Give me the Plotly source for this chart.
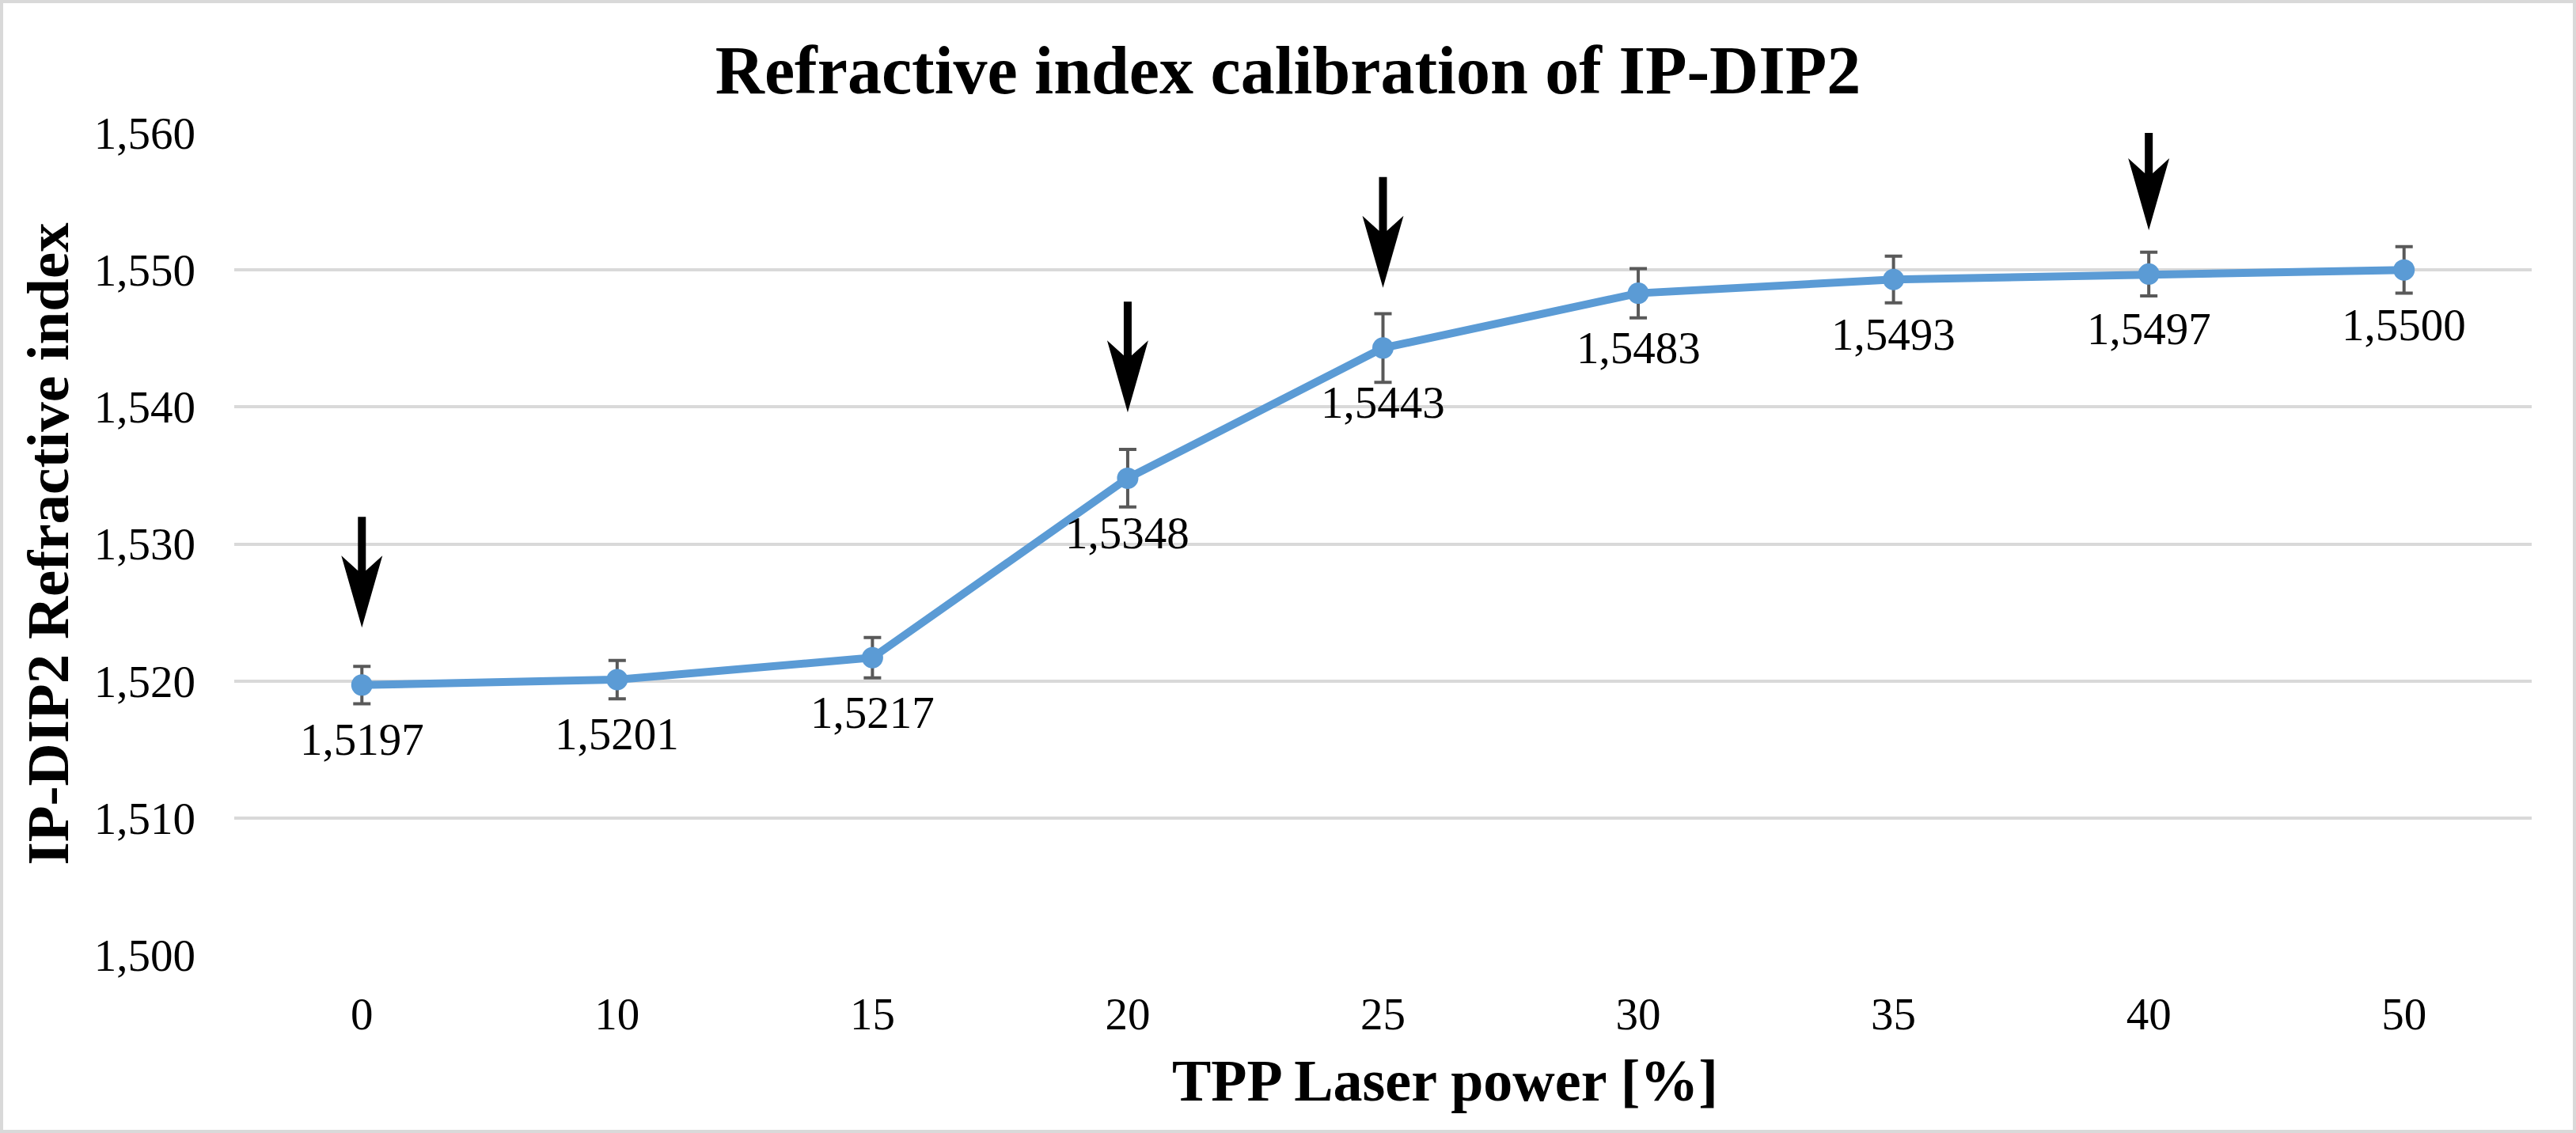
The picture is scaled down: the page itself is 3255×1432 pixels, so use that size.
import plotly.graph_objects as go

# ---- data ----
laser_power = ["0", "10", "15", "20", "25", "30", "35", "40", "50"]
refractive_index = [1.5197, 1.5201, 1.5217, 1.5348, 1.5443, 1.5483, 1.5493, 1.5497, 1.5500]
error_values = [0.00136, 0.0014, 0.00147, 0.0021, 0.0025, 0.0018, 0.0017, 0.0016, 0.0017]
arrow_categories = ["0", "20", "25", "40"]
arrow_tip_values = [1.5239, 1.5396, 1.5487, 1.5529]
y_range = [1.500, 1.560]
y_dtick = 0.010

title_text = "Refractive index calibration of IP-DIP2"
x_title = "TPP Laser power [%]"
y_title = "IP-DIP2 Refractive index"

# ---- style ----
W, H = 3255, 1432
L, R, T, B = 296, 56, 168, 225
PW, PH = W - L - R, H - T - B
FONT = "Liberation Serif"
BLUE = "#5B9BD5"
GRID = "#D9D9D9"
ERR = "#595959"
# arrow glyph in pixels relative to its tip (y up)
ARROW_PATH = "M0,0 L26,91 L5,72 L5,140 L-5,140 L-5,72 L-26,91 Z"

cat_index = {c: i for i, c in enumerate(laser_power)}

fig = go.Figure()
fig.add_trace(go.Scatter(
    x=laser_power, y=refractive_index, mode="lines+markers",
    line=dict(color=BLUE, width=10),
    marker=dict(color=BLUE, size=27),
    error_y=dict(type="data", array=error_values, visible=True,
                 color=ERR, thickness=4, width=11),
    showlegend=False, hoverinfo="x+y",
))

annotations = []
for xc, yv in zip(laser_power, refractive_index):
    annotations.append(dict(
        x=cat_index[xc], y=yv, xref="x", yref="y", showarrow=False,
        text=f"{yv:.4f}".replace(".", ","),
        font=dict(family=FONT, size=57, color="black"),
        xanchor="center", yanchor="middle", yshift=-69,
    ))

annotations.append(dict(
    x=(1826 - L) / PW, y=-(1366 - (T + PH)) / PH, xref="paper", yref="paper",
    text=f"<b>{x_title}</b>", showarrow=False,
    font=dict(family=FONT, size=74, color="black"),
    xanchor="center", yanchor="middle",
))
annotations.append(dict(
    x=(60 - L) / PW, y=0.5, xref="paper", yref="paper",
    text=f"<b>{y_title}</b>", showarrow=False, textangle=-90,
    font=dict(family=FONT, size=75, color="black"),
    xanchor="center", yanchor="middle",
))

shapes = []
for xc, yt in zip(arrow_categories, arrow_tip_values):
    shapes.append(dict(
        type="path", xref="x", yref="y", xsizemode="pixel", ysizemode="pixel",
        xanchor=cat_index[xc], yanchor=yt, path=ARROW_PATH,
        fillcolor="black", line=dict(width=0), layer="above",
    ))
# chart-area border
shapes.append(dict(
    type="rect", xref="paper", yref="paper",
    x0=-(L - 2) / PW, x1=1 + (R - 2) / PW, y0=-(B - 2) / PH, y1=1 + (T - 2) / PH,
    line=dict(color=GRID, width=4), fillcolor="rgba(0,0,0,0)", layer="below",
))

fig.update_layout(
    width=W, height=H,
    margin=dict(l=L, r=R, t=T, b=B, autoexpand=False),
    paper_bgcolor="white", plot_bgcolor="white",
    separators=",.",
    font=dict(family=FONT, color="black"),
    title=dict(text=f"<b>{title_text}</b>", x=0.5, xref="container", xanchor="center",
               y=1 - 88 / H, yref="container", yanchor="middle",
               font=dict(family=FONT, size=86, color="black")),
    xaxis=dict(type="category", range=[-0.5, len(laser_power) - 0.5],
               showgrid=False, zeroline=False, showline=False,
               ticks="", ticklabelstandoff=36,
               tickfont=dict(family=FONT, size=57, color="black")),
    yaxis=dict(range=y_range, dtick=y_dtick, tick0=y_range[0], tickformat=".3f",
               showgrid=True, gridcolor=GRID, gridwidth=3.5, zeroline=False,
               showline=False, ticks="", ticklabelstandoff=48,
               tickfont=dict(family=FONT, size=57, color="black")),
    annotations=annotations, shapes=shapes,
)

fig.write_html("out.html", config={"displayModeBar": False},
               post_script="document.body.style.margin='0';")
